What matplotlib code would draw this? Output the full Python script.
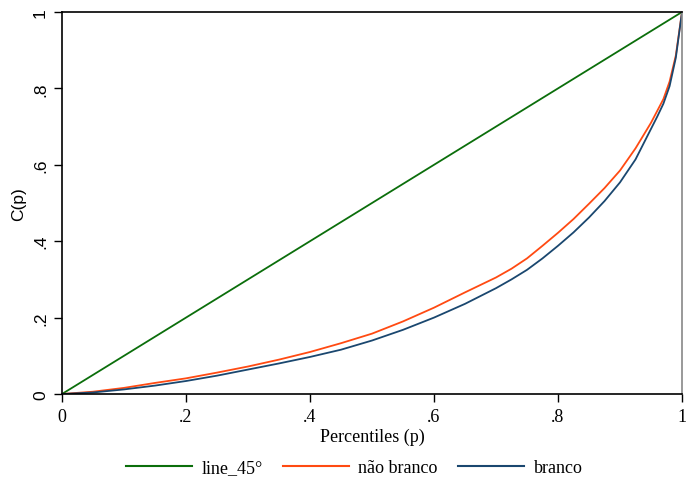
import matplotlib
matplotlib.use("Agg")
import matplotlib.pyplot as plt
from matplotlib.lines import Line2D

# Concentration curves by group
p = [0.0, 0.05, 0.10, 0.15, 0.20, 0.25, 0.30, 0.35, 0.40, 0.45, 0.50, 0.55,
     0.60, 0.65, 0.70, 0.725, 0.75, 0.775, 0.80, 0.825, 0.85, 0.875, 0.90,
     0.925, 0.95, 0.96, 0.97, 0.98, 0.99, 1.0]
nao_branco = [0.0, 0.006, 0.016, 0.029, 0.041, 0.056, 0.072, 0.090, 0.110, 0.133,
              0.158, 0.190, 0.226, 0.266, 0.305, 0.328, 0.355, 0.388, 0.422, 0.458,
              0.498, 0.539, 0.585, 0.643, 0.710, 0.741, 0.772, 0.818, 0.886, 1.0]
branco = [0.0, 0.004, 0.012, 0.022, 0.034, 0.048, 0.064, 0.080, 0.097, 0.116,
          0.140, 0.168, 0.200, 0.236, 0.277, 0.300, 0.325, 0.355, 0.388, 0.423,
          0.462, 0.505, 0.554, 0.614, 0.694, 0.726, 0.760, 0.806, 0.880, 1.0]
line_45 = [0.0, 1.0]

ticks = [0, 0.2, 0.4, 0.6, 0.8, 1]
tick_labels = ["0", ".2", ".4", ".6", ".8", "1"]
series_names = ["line_45°", "não branco", "branco"]

c_green = "#0b6e0b"
c_orange = "#ff4a12"
c_blue = "#1a476f"

serif = ["Liberation Serif", "DejaVu Serif"]
sans = ["Liberation Sans", "DejaVu Sans"]

fig = plt.figure(figsize=(6.87, 4.85), dpi=100)
ax = fig.add_axes([62/687, 1 - 395/485, 620/687, 382/485])

ax.plot(line_45, line_45, color=c_green, lw=1.3)
ax.plot(p, nao_branco, color=c_orange, lw=1.3)
ax.plot(p, branco, color=c_blue, lw=1.3)

ax.set_xlim(0, 1)
ax.set_ylim(0, 1)
ax.set_xticks(ticks)
ax.set_xticklabels(tick_labels, fontfamily=serif, fontsize=13)
ax.set_yticks(ticks)
ax.set_yticklabels(tick_labels, fontfamily=sans, fontsize=12.5, rotation=90,
                   va="center")
ax.tick_params(direction="out", length=6, width=1, color="black", pad=4)
for s in ["left", "bottom", "top"]:
    ax.spines[s].set_linewidth(1.2)
    ax.spines[s].set_color("black")
ax.spines["right"].set_color("#888888")
ax.spines["right"].set_linewidth(1.2)

ax.set_xlabel("Percentiles (p)", fontfamily=serif, fontsize=13, labelpad=2)
ax.set_ylabel("C(p)", fontfamily=sans, fontsize=12.5, labelpad=5)

handles = [Line2D([], [], color=c, lw=1.5) for c in (c_green, c_orange, c_blue)]
fig.legend(handles, series_names, loc="center", bbox_to_anchor=(354/687, 1 - 469/485),
           ncol=3, frameon=False, handlelength=3.7, handletextpad=0.5,
           columnspacing=1.1, prop={"family": serif, "size": 13})

fig.savefig("out.png", dpi=100)
